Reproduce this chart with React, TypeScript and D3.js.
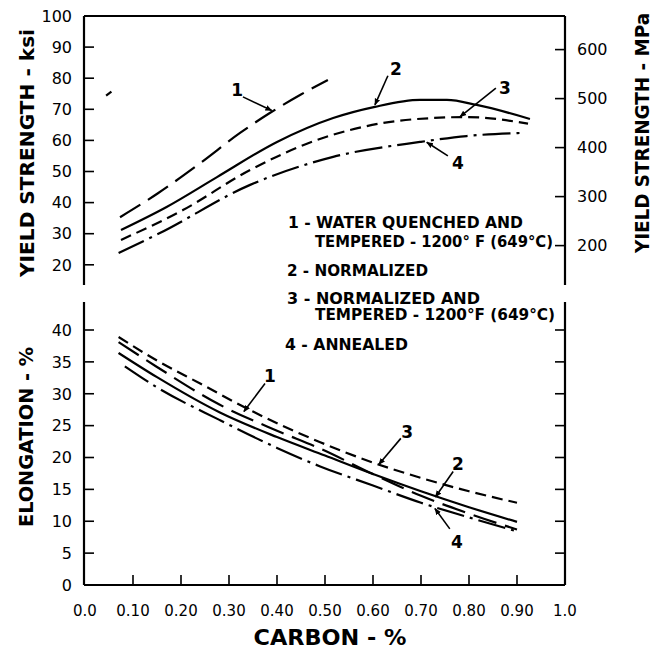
import React from "react";
import * as d3 from "d3";

// ---------- data ----------
const KSI_TICKS = [20, 30, 40, 50, 60, 70, 80, 90, 100];
const MPA_TICKS = [200, 300, 400, 500, 600];
const ELONG_TICKS = [0, 5, 10, 15, 20, 25, 30, 35, 40];
const CARBON_TICKS = [0, 0.1, 0.2, 0.3, 0.4, 0.5, 0.6, 0.7, 0.8, 0.9, 1.0];
const CARBON_LABELS = ["0.0", "0.10", "0.20", "0.30", "0.40", "0.50", "0.60", "0.70", "0.80", "0.90", "1.0"];

// yield strength (ksi) vs carbon (%)
const YS_1: [number, number][] = [[0.073, 35.3], [0.152, 43], [0.24, 52.7], [0.323, 62.4], [0.385, 68.8], [0.448, 74.6], [0.506, 79.4]];
const YS_2: [number, number][] = [[0.075, 31.2], [0.17, 38.6], [0.275, 48.2], [0.4, 59.5], [0.517, 67.2], [0.604, 70.8], [0.698, 73], [0.754, 73], [0.816, 71.4], [0.927, 66.9]];
const YS_3: [number, number][] = [[0.075, 28], [0.204, 37.6], [0.344, 50.5], [0.483, 60.1], [0.621, 65.6], [0.725, 67.2], [0.795, 67.5], [0.923, 65.4]];
const YS_4: [number, number][] = [[0.07, 23.8], [0.156, 30.2], [0.344, 45.7], [0.517, 54.7], [0.698, 59.5], [0.795, 61.4], [0.91, 62.4]];
const YS_STRAY: [number, number][] = [[0.044, 74.4], [0.055, 75.7]];

// elongation (%) vs carbon (%)
const EL_1: [number, number][] = [[0.07, 38.1], [0.15, 34.2], [0.28, 28.3], [0.4, 24.2], [0.49, 21.4], [0.6, 17.4], [0.7, 14.0], [0.8, 11.2], [0.9, 8.7]];
const EL_2: [number, number][] = [[0.07, 36.4], [0.15, 32.6], [0.28, 27.1], [0.4, 23.2], [0.5, 20.3], [0.6, 17.4], [0.7, 14.7], [0.8, 12.2], [0.9, 9.9]];
const EL_3: [number, number][] = [[0.07, 38.9], [0.15, 35.2], [0.24, 31.6], [0.35, 27.2], [0.49, 22.4], [0.6, 19.2], [0.7, 16.8], [0.8, 14.7], [0.9, 12.9]];
const EL_4: [number, number][] = [[0.083, 34.3], [0.15, 31.0], [0.28, 25.9], [0.4, 21.5], [0.49, 18.6], [0.6, 15.6], [0.7, 12.9], [0.8, 10.6], [0.9, 8.4]];

// curve labels: [label, textC, textV, fromC, fromV, toC, toV]
const YS_NOTES: [string, number, number, number, number, number, number][] = [
  ["1", 0.317, 76.2, 0.329, 74.0, 0.389, 69.6],
  ["2", 0.648, 83.0, 0.631, 80.8, 0.604, 71.4],
  ["3", 0.875, 77.0, 0.856, 76.8, 0.781, 67.6],
  ["4", 0.777, 52.7, 0.756, 55.0, 0.712, 59.4],
];
const EL_NOTES: [string, number, number, number, number, number, number][] = [
  ["1", 0.385, 32.8, 0.375, 31.6, 0.331, 27.2],
  ["3", 0.671, 24.0, 0.658, 23.0, 0.612, 18.9],
  ["2", 0.777, 19.0, 0.767, 17.8, 0.73, 13.8],
  ["4", 0.775, 6.8, 0.76, 8.8, 0.729, 12.0],
];

const LEGEND_LINES = [
  "1 - WATER QUENCHED AND",
  "TEMPERED - 1200° F (649°C)",
  "2 - NORMALIZED",
  "3 - NORMALIZED  AND",
  "TEMPERED - 1200°F (649°C)",
  "4 - ANNEALED",
];

// ---------- styles / layout ----------
const FONT = "DejaVu Sans";
const DASH: Record<string, string | undefined> = {
  "1": "24,9",
  "2": undefined,
  "3": "11,6",
  "4": "28,6,3,6",
};
const LEGEND_POS = [
  { x: 288, y: 228, w: 235 },
  { x: 315, y: 247, w: 238 },
  { x: 287, y: 276, w: 141 },
  { x: 287, y: 304, w: 193 },
  { x: 315, y: 320, w: 240 },
  { x: 285, y: 350, w: 123 },
];

export default function App() {
  const x = d3.scaleLinear().domain([0, 1]).range([85, 565]);
  const yTop = d3.scaleLinear().domain([20, 100]).range([264.8, 16]);
  const yMpa = d3.scaleLinear().domain([200, 600]).range([245.6, 49.6]);
  const yBot = d3.scaleLinear().domain([0, 40]).range([585, 330]);

  const lineTop = d3.line<[number, number]>().x((d) => x(d[0])).y((d) => yTop(d[1])).curve(d3.curveMonotoneX);
  const lineBot = d3.line<[number, number]>().x((d) => x(d[0])).y((d) => yBot(d[1])).curve(d3.curveMonotoneX);

  const topSeries: [string, [number, number][]][] = [["1", YS_1], ["2", YS_2], ["3", YS_3], ["4", YS_4]];
  const botSeries: [string, [number, number][]][] = [["1", EL_1], ["2", EL_2], ["3", EL_3], ["4", EL_4]];

  const axisX0 = 84;
  const axisX1 = 565;
  const topY0 = 16;
  const topY1 = 285;
  const botY0 = 302;
  const botY1 = 585;

  const renderNotes = (notes: typeof YS_NOTES, y: d3.ScaleLinear<number, number>, key: string) =>
    notes.map(([lab, tc, tv, fc, fv, ec, ev]) => (
      <g key={key + lab}>
        <text x={x(tc)} y={y(tv)} dy="0.36em" textAnchor="middle" fontSize={17} fontWeight="bold" fontFamily={FONT}>
          {lab}
        </text>
        <line x1={x(fc)} y1={y(fv)} x2={x(ec)} y2={y(ev)} stroke="#000" strokeWidth={1.6} markerEnd="url(#arrow)" />
      </g>
    ));

  return (
    <svg width={657} height={652} style={{ position: "absolute", left: 0, top: 0, background: "#fff" }}>
      <defs>
        <marker id="arrow" viewBox="0 0 10 10" refX="9" refY="5" markerWidth="7" markerHeight="7" orient="auto" markerUnits="userSpaceOnUse">
          <path d="M0,1 L10,5 L0,9 Z" fill="#000" />
        </marker>
      </defs>
      <rect width={657} height={652} fill="#fff" />

      {/* ---- frames ---- */}
      <g stroke="#000" strokeWidth={2.2} fill="none">
        <line x1={axisX0} y1={topY0} x2={axisX1} y2={topY0} />
        <line x1={axisX0} y1={topY0} x2={axisX0} y2={topY1} />
        <line x1={axisX1} y1={topY0} x2={axisX1} y2={topY1} />
        <line x1={axisX0} y1={botY0} x2={axisX0} y2={botY1} />
        <line x1={axisX1} y1={botY0} x2={axisX1} y2={botY1} />
        <line x1={axisX0} y1={botY1} x2={axisX1} y2={botY1} />
      </g>

      {/* left ksi ticks */}
      {KSI_TICKS.map((t) => (
        <g key={"k" + t}>
          <line x1={axisX0} x2={axisX0 + 10} y1={yTop(t)} y2={yTop(t)} stroke="#000" strokeWidth={1.6} />
          <text x={72} y={yTop(t)} dy="0.36em" textAnchor="end" fontSize={16} fontFamily={FONT}>
            {t}
          </text>
        </g>
      ))}
      {/* right MPa ticks */}
      {MPA_TICKS.map((t) => (
        <g key={"m" + t}>
          <line x1={axisX1 - 10} x2={axisX1} y1={yMpa(t)} y2={yMpa(t)} stroke="#000" strokeWidth={1.6} />
          <text x={577} y={yMpa(t)} dy="0.36em" textAnchor="start" fontSize={16} fontFamily={FONT}>
            {t}
          </text>
        </g>
      ))}
      {/* elongation ticks */}
      {ELONG_TICKS.map((t) => (
        <g key={"e" + t}>
          <line x1={axisX0} x2={axisX0 + 10} y1={yBot(t)} y2={yBot(t)} stroke="#000" strokeWidth={1.6} />
          <line x1={axisX1 - 10} x2={axisX1} y1={yBot(t)} y2={yBot(t)} stroke="#000" strokeWidth={1.6} />
          <text x={72} y={yBot(t)} dy="0.36em" textAnchor="end" fontSize={16} fontFamily={FONT}>
            {t}
          </text>
        </g>
      ))}
      {/* carbon ticks */}
      {CARBON_TICKS.map((t, i) => (
        <g key={"c" + t}>
          {t > 0 && t < 1 && <line x1={x(t)} x2={x(t)} y1={botY1} y2={botY1 - 10} stroke="#000" strokeWidth={1.6} />}
          <text x={x(t)} y={616} textAnchor="middle" fontSize={15} fontFamily={FONT}>
            {CARBON_LABELS[i]}
          </text>
        </g>
      ))}

      {/* axis titles */}
      <text transform="translate(34,153) rotate(-90)" textAnchor="middle" fontSize={20} fontWeight="bold" fontFamily={FONT} textLength={248} lengthAdjust="spacingAndGlyphs">
        YIELD STRENGTH - ksi
      </text>
      <text transform="translate(649,133) rotate(-90)" textAnchor="middle" fontSize={19} fontWeight="bold" fontFamily={FONT} textLength={240} lengthAdjust="spacingAndGlyphs">
        YIELD STRENGTH - MPa
      </text>
      <text transform="translate(33,437) rotate(-90)" textAnchor="middle" fontSize={20} fontWeight="bold" fontFamily={FONT} textLength={180} lengthAdjust="spacingAndGlyphs">
        ELONGATION - %
      </text>
      <text x={330} y={645} textAnchor="middle" fontSize={21} fontWeight="bold" fontFamily={FONT} textLength={153} lengthAdjust="spacingAndGlyphs">
        CARBON -  %
      </text>

      {/* curves */}
      <g fill="none" stroke="#000" strokeWidth={2.2}>
        {topSeries.map(([k, d]) => (
          <path key={"t" + k} d={lineTop(d) || ""} strokeDasharray={DASH[k]} />
        ))}
        <path d={lineTop(YS_STRAY) || ""} />
        {botSeries.map(([k, d]) => (
          <path key={"b" + k} d={lineBot(d) || ""} strokeDasharray={DASH[k]} />
        ))}
      </g>

      {renderNotes(YS_NOTES, yTop, "yn")}
      {renderNotes(EL_NOTES, yBot, "en")}

      {/* legend */}
      {LEGEND_LINES.map((s, i) => (
        <text key={"l" + i} x={LEGEND_POS[i].x} y={LEGEND_POS[i].y} fontSize={15.5} fontWeight="bold" fontFamily={FONT} textLength={LEGEND_POS[i].w} lengthAdjust="spacingAndGlyphs">
          {s}
        </text>
      ))}
    </svg>
  );
}
